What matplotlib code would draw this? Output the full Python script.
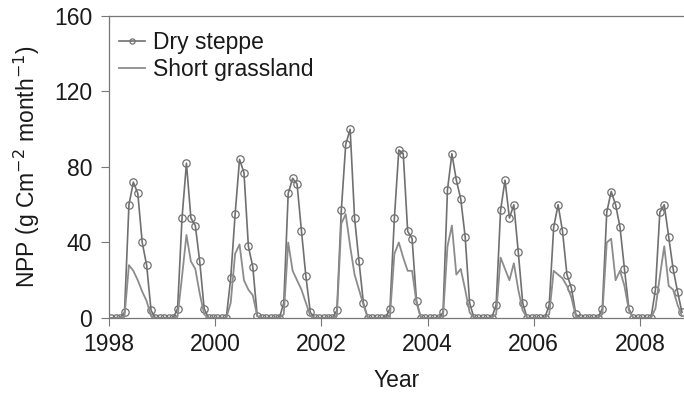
import numpy as np
import matplotlib.pyplot as plt

plt.rcParams['font.family'] = ['Liberation Sans', 'DejaVu Sans']

# monthly NPP, Jan 1998 .. Oct 2008
dry_steppe = [
    0, 0, 0, 3, 60, 72, 66, 40, 28, 4, 0, 0,
    0, 0, 0, 5, 53, 82, 53, 49, 30, 5, 0, 0,
    0, 0, 0, 21, 55, 84, 77, 38, 27, 1, 0, 0,
    0, 0, 0, 8, 66, 74, 71, 46, 22, 3, 0, 0,
    0, 0, 0, 4, 57, 92, 100, 53, 30, 8, 0, 0,
    0, 0, 0, 5, 53, 89, 87, 46, 42, 9, 0, 0,
    0, 0, 0, 3, 68, 87, 73, 63, 43, 8, 0, 0,
    0, 0, 0, 7, 57, 73, 53, 60, 35, 8, 0, 0,
    0, 0, 0, 7, 48, 60, 46, 23, 16, 2, 0, 0,
    0, 0, 0, 5, 56, 67, 60, 48, 26, 5, 0, 0,
    0, 0, 0, 15, 56, 60, 43, 26, 14, 3,
]
short_grassland = [
    0, 0, 0, 1, 28, 25, 20, 14, 9, 1, 0, 0,
    0, 0, 0, 1, 22, 44, 30, 26, 13, 2, 0, 0,
    0, 0, 0, 8, 34, 39, 20, 15, 12, 1, 0, 0,
    0, 0, 0, 2, 40, 25, 20, 15, 8, 1, 0, 0,
    0, 0, 0, 1, 50, 55, 38, 23, 15, 7, 0, 0,
    0, 0, 0, 1, 34, 40, 32, 25, 25, 8, 0, 0,
    0, 0, 0, 1, 38, 49, 23, 26, 15, 3, 0, 0,
    0, 0, 0, 2, 32, 26, 20, 29, 15, 4, 0, 0,
    0, 0, 0, 2, 25, 23, 21, 17, 11, 1, 0, 0,
    0, 0, 0, 2, 40, 42, 20, 25, 17, 4, 0, 0,
    0, 0, 0, 5, 22, 38, 17, 15, 7, 1,
]
start_year = 1998
year_ticks = [1998, 2000, 2002, 2004, 2006, 2008]
npp_ticks = [0, 40, 80, 120, 160]

# mid-month positions in decimal years
t = start_year + (np.arange(len(dry_steppe)) + 0.5) / 12

fig = plt.figure(figsize=(6.84, 3.94), dpi=100)
ax = fig.add_axes([0.1594, 0.1929, 0.8406, 0.7665])

ax.plot(t, dry_steppe, color='#707070', lw=1.2, marker='o', ms=5.3,
        mfc='none', mec='#707070', mew=0.9, label='Dry steppe')
ax.plot(t, short_grassland, color='#8c8c8c', lw=1.3, label='Short grassland')

ax.set_xlim(1998.0, 2008.83)
ax.set_ylim(0, 160)
ax.set_xticks(year_ticks)
ax.set_yticks(npp_ticks)
ax.tick_params(direction='out', length=6, width=0.8, color='#777777',
               labelsize=16.5, labelcolor='#1a1a1a')
ax.tick_params(axis='x', pad=5)
ax.tick_params(axis='y', pad=6)

for side in ['left', 'top', 'bottom']:
    ax.spines[side].set_color('#777777')
    ax.spines[side].set_linewidth(0.9)
ax.spines['right'].set_visible(False)

ax.set_xlabel('Year', fontsize=16.5, color='#1a1a1a', labelpad=9)
ax.set_ylabel('NPP (g Cm$^{-2}$ month$^{-1}$)', fontsize=16.5,
              color='#1a1a1a', labelpad=9)

leg = ax.legend(loc='upper left', bbox_to_anchor=(-0.014, 1.012), frameon=False,
                fontsize=16.5, handlelength=1.1, handletextpad=0.35,
                labelspacing=0.2, borderaxespad=0.4, markerscale=0.7)
for txt in leg.get_texts():
    txt.set_color('#1a1a1a')

fig.savefig('out.png', dpi=100)
